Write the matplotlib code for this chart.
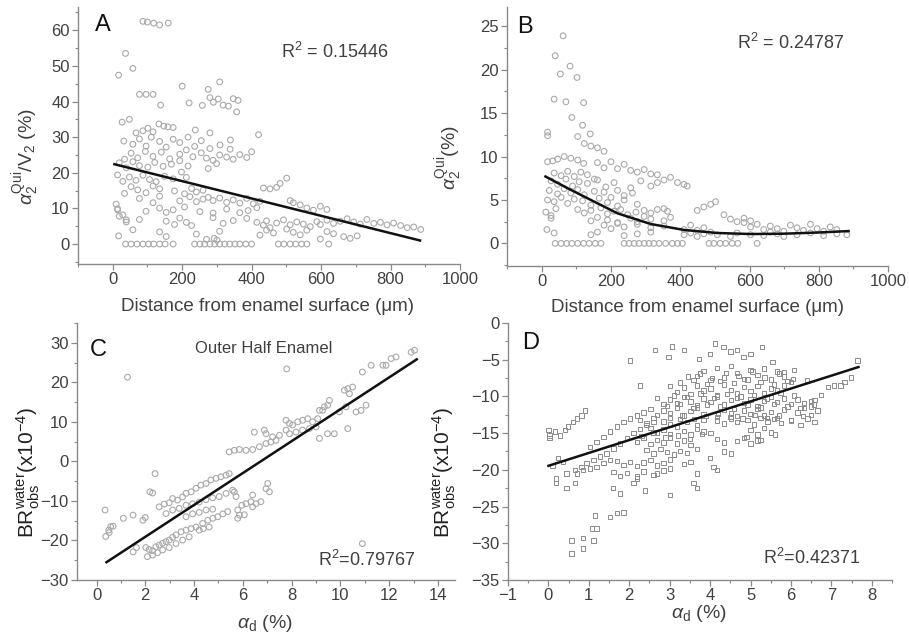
import matplotlib
matplotlib.use("Agg")
import matplotlib.pyplot as plt
from matplotlib.ticker import MultipleLocator
import numpy as np

plt.rcParams['font.family'] = ['Liberation Sans', 'DejaVu Sans']
plt.rcParams['mathtext.fontset'] = 'custom'
plt.rcParams['mathtext.rm'] = 'Liberation Sans'
plt.rcParams['mathtext.it'] = 'Liberation Sans:italic'

# ---------------- Panel A data ----------------
A_x = [87, 100, 118, 135, 160,
       37, 17, 58, 77, 96, 116, 138, 200, 308, 275, 220, 258,
       280, 290, 304, 318, 333, 347, 361, 357,
       27, 48, 32, 67, 87, 101, 116, 133, 147, 159, 174, 238, 280, 339, 420,
       58, 77, 96, 111, 135, 154, 174, 193, 217, 236, 255, 280, 309, 338,
       34, 53, 72, 94, 116, 140, 164, 193, 212, 231, 255, 270, 289, 308, 328, 347, 366, 386, 400,
       19, 39, 58, 77, 101, 121, 145, 169, 193, 217, 275, 299,
       14, 29, 48, 67, 87, 106, 125, 149, 174, 198, 212,
       34, 53, 72, 96, 116, 135, 178, 207, 227, 241, 260,
       10, 77, 116, 135, 193, 222, 241, 260, 275, 289, 308, 328, 347, 366, 386, 405, 424,
       434, 453, 472, 482, 501,
       14, 96, 135, 154, 174, 207, 251, 289, 328, 366, 390, 415, 511, 520, 540, 559, 578, 598, 617,
       19, 39, 77, 154, 178, 193, 212, 227, 289, 318, 347, 386, 415, 434, 443, 453, 472, 492, 511,
       530, 549, 569, 588, 598, 617, 636, 655, 675, 694, 713, 732, 752, 771, 790, 809, 829, 848, 867,
       17, 135, 154, 241, 308, 424, 443, 463, 501, 520, 540, 559, 598, 617, 636, 665, 684, 704, 887,
       37, 53, 70, 87, 103, 118, 135, 151, 174, 236, 251, 265, 280, 294, 308, 323, 337, 352, 366,
       383, 400, 477, 493, 511, 527, 544, 559, 622,
       270, 292, 300,
       14, 29, 39, 58]
A_y = [62.5, 62.3, 62, 61.5, 62,
       53.5, 47.4, 49.3, 42, 42, 42, 39, 44.3, 45.5, 43.4, 39.6, 38.9,
       41.1, 39.8, 40.7, 39, 38.7, 40.8, 40.3, 37.1,
       34.2, 35, 28.9, 31.2, 31.8, 32.5, 31.5, 33.7, 33.1, 32.9, 32.7, 32, 31.2, 29.2, 30.7,
       28, 29.5, 27.5, 30, 28.8, 27.2, 29.4, 28.5, 30, 27.4, 29, 26.8, 27.8, 26.6,
       23.8, 25.5, 24.2, 26, 24.6, 25.8, 23.9, 25.2, 26.4, 24.5, 25.6, 24.1, 23.5, 25, 24.4, 23.8, 25.1, 24.3, 25.9,
       22.8, 21.4, 23.1, 22, 21.6, 22.9, 21.8, 22.4, 23.4, 21.9, 21.2, 22.6,
       19.4, 17.6, 18.8, 17.9, 19.3, 18.1, 17.5, 19, 18.3, 20.2, 18.7,
       14.2, 16.1, 15.2, 14.4, 16.3, 15.5, 14.9, 14.1, 15.6, 14.6, 15.1,
       11.2, 12.8, 11.6, 13.4, 12.1, 13.3, 11.9, 12.6, 13.1, 12.2, 12.9, 11.7, 12.4, 11.5, 12.8, 11.3, 12,
       15.7, 15.5, 15.9, 17, 18.5,
       9.9, 9.2, 10.1, 8.9, 9.6, 10.4, 9.1, 8.7, 9.8, 8.8, 9.4, 10.2, 12.2, 11.6, 11, 10.1, 9.5, 10.6, 9.7,
       7.8, 6.2, 6.9, 6.4, 5.5, 7.3, 6.1, 5.2, 7.4, 5.8, 6.6, 7.2, 6.1, 5.3, 6.5, 4.6, 5.9, 6.8, 5.4,
       6.2, 5.6, 4.9, 6.3, 5.5, 6.7, 5.8, 6.4, 7.1, 6.2, 5.6, 6.9, 5.8, 6.1, 5.4, 5.9, 5.2, 4.6, 4.8,
       2.3, 3.4, 2.1, 2.8, 3.6, 2.5, 3.9, 3.1, 4.2, 3.3, 2.6, 3.9, 1.4, 3.5, 2.9, 2.1, 1.6, 2.3, 4.1,
       0, 0, 0, 0, 0, 0, 0, 0, 0, 0, 0, 0, 0, 0, 0, 0, 0, 0, 0,
       0, 0, 0, 0, 0, 0, 0, 0, 0,
       1.3, 1.6, 1.1,
       9.6, 8.2, 6.8, 4]
A_fit_x = [5, 885]
A_fit_y = [22.4, 1.0]

# ---------------- Panel B data ----------------
B_x = [62, 39, 54, 82, 102, 36, 70, 121, 87, 118, 140, 17, 17,
       104, 123, 142, 161, 180,
       17, 32, 46, 65, 84, 104, 121,
       161, 180, 200, 219, 238, 257, 276, 296, 315, 334, 353, 372, 392, 411, 420,
       36, 56, 75, 94, 113, 132, 152,
       27, 46, 70, 89, 108, 132, 161, 185, 209, 257, 286, 315, 334,
       22, 46, 65, 84, 104, 123, 152, 180, 200, 219, 238, 262,
       17, 36, 56, 75, 94, 118, 142, 166, 190, 219, 238, 276,
       449, 468, 488, 502,
       12, 27, 41, 104, 123, 142, 171, 190, 209, 228, 248, 272, 296, 315, 334, 353, 363,
       27, 142, 161, 190, 219, 257, 276, 296, 315, 353, 372, 526, 545, 564, 584, 603,
       15, 180, 200, 219, 238, 276, 315, 353, 411, 430, 449, 468, 584, 603, 622, 641, 660, 680,
       699, 718, 737, 756, 776, 795, 814, 833, 852,
       36, 142, 161, 238, 276, 315, 411, 430, 449, 468, 488, 507, 545, 564, 603, 641, 660, 680,
       699, 737, 776, 814, 852, 881,
       39, 56, 72, 87, 104, 121, 137, 155, 171, 238, 252, 267, 281, 296, 310, 324, 339, 358,
       377, 392, 406, 483, 497, 515, 531, 550, 566, 622]
B_y = [23.9, 21.6, 19.5, 20.4, 19.1, 16.6, 16.3, 16.2, 14.5, 13.6, 12.6, 12.8, 12.4,
       12.3, 11.5, 11.2, 11, 10.6,
       9.4, 9.5, 9.7, 10, 9.8, 9.6, 9.2,
       9.3, 8.7, 9.4, 8.6, 9.1, 8.4, 8.2, 8.5, 8.0, 7.9, 7.3, 7.6, 7.0, 6.8, 6.6,
       8.1, 7.8, 8.3, 7.7, 8.2, 7.9, 7.4,
       7.2, 6.8, 7.4, 6.6, 7.1, 6.9, 7.3, 6.5, 7.0, 6.4, 7.2, 6.6, 7.0,
       6.1, 5.7, 6.3, 5.8, 6.2, 5.6, 6.0, 5.9, 5.3, 6.1, 5.5, 5.8,
       5.0, 4.8, 5.3, 4.6, 5.1, 4.9, 4.4, 5.2, 4.7, 4.3, 5.0, 4.5,
       3.8, 4.2, 4.5, 4.8,
       3.6, 3.2, 4.0, 3.9, 3.5, 3.8, 4.1, 3.4, 3.7, 3.9, 3.3, 3.6, 3.8, 3.5, 3.9, 4.0, 3.7,
       2.9, 2.6, 3.0, 2.7, 2.4, 2.9, 2.5, 3.1, 2.8, 2.6, 3.0, 3.3, 2.8, 2.5, 2.9, 2.6,
       1.6, 2.1, 1.7, 2.3, 1.9, 2.2, 1.8, 2.0, 1.6, 2.1, 1.5, 1.8, 2.4, 1.9, 2.2, 1.6, 2.0, 1.7,
       1.4, 2.1, 1.8, 1.5, 2.2, 1.7, 1.4, 1.9, 1.6,
       1.2, 1.0, 1.3, 0.9, 1.1, 1.3, 1.0, 1.2, 0.8, 1.1, 1.3, 1.0, 0.8, 1.2, 1.0, 0.9, 1.3, 1.1,
       0.8, 1.0, 1.2, 0.9, 1.1, 1.0,
       0, 0, 0, 0, 0, 0, 0, 0, 0, 0, 0, 0, 0, 0, 0, 0, 0, 0,
       0, 0, 0, 0, 0, 0, 0, 0, 0, 0]
B_fit_x = [11, 75, 142, 219, 315, 411, 507, 603, 699, 795, 886]
B_fit_y = [7.7, 6.35, 5.0, 3.46, 2.23, 1.55, 1.2, 1.08, 1.12, 1.25, 1.42]

# ---------------- Panel C data ----------------
C_x = [1.27, 7.8, 10.9, 0.35, 0.5, 0.58, 0.68, 0.38, 0.52,
       1.1, 1.5, 1.9, 2.0, 1.5, 1.64, 2.19, 2.3, 2.4,
       2.02, 2.16, 2.3, 2.43, 2.57, 2.71, 2.85, 2.98, 3.12, 3.26, 3.47, 3.67, 3.88, 4.08, 4.35,
       4.56, 4.77, 4.97, 5.18, 5.38,
       2.09, 2.3, 2.5, 2.71, 2.98, 3.26, 3.53, 3.8, 4.21, 4.62,
       2.57, 2.78, 2.98, 3.12, 3.32, 3.53, 3.67, 3.88, 4.08, 4.28, 4.49, 4.69, 4.9, 5.1, 5.31, 5.44,
       2.85, 3.12, 3.39, 3.67, 3.94, 4.21, 4.49, 4.76, 5.03, 5.31, 5.58, 3.67, 3.94, 4.21, 4.49, 4.76,
       4.38,
       5.65, 5.72, 5.79, 5.86, 5.96, 6.13, 6.33, 6.54, 6.74, 6.95, 7.02, 7.09, 5.79, 6.06, 6.4, 6.4,
       5.44, 5.65, 5.86, 6.13, 6.4, 6.68, 6.95, 7.15, 7.36,
       6.47, 6.88, 6.95,
       7.22, 7.5, 7.77, 7.91, 8.04, 8.25, 8.45, 8.66, 8.86, 9.07, 7.91, 8.18, 8.45, 8.73, 9.0, 7.77,
       9.14, 9.47, 9.75,
       9.14, 9.34, 9.55, 9.48, 9.27,
       9.96, 10.23, 10.3,
       10.16, 10.3, 10.5, 10.37,
       10.64, 10.85, 11.05,
       10.9, 11.26,
       11.74, 11.87, 12.08, 12.28,
       12.9, 13.04]
C_y = [21.3, 23.4, -20.8, -12.3, -17.4, -16.5, -16.4, -19, -18,
       -14.4, -13.6, -14.9, -14.2, -22.9, -21.8, -7.7, -8, -3.1,
       -21.8, -22.3, -22.6, -21.6, -21.2, -20.7, -20.3, -19.9, -19.2, -18.6, -17.8, -17.4, -17,
       -16.6, -15.7, -14.9, -14.4, -14, -13.3, -12.7,
       -24.1, -23.7, -23.1, -22.4, -21.8, -20.8, -19.9, -19.1, -17.4, -16.6,
       -11.5, -10.8, -10.5, -9.4, -9.8, -9, -8.1, -7.7, -6.8, -6, -5.6, -4.7, -4.3, -3.9, -3.5, -3.1,
       -13.2, -12.3, -11.9, -11.1, -10.7, -10.3, -9.7, -9.2, -8.9, -8.1, -7.3, -14, -13.3, -12.9,
       -12.3, -12.1,
       -17,
       -7.7, -8.9, -12.3, -13.6, -11.1, -10.7, -10.2, -10.7, -10.2, -6.9, -5.6, -7.7, -14.4, -13.5,
       -11.5, -8.5,
       2.4, 2.8, 3, 2.8, 3, 3.7, 4.5, 4.9, 5.3,
       7.4, 7.9, 7,
       6.2, 6.6, 7.9, 9.6, 9.2, 10, 10.4, 10.8, 10, 10.8, 7, 7.4, 7.9, 8.3, 8.7, 10.4,
       5.8, 7, 7,
       12.9, 13.8, 15.4, 14.2, 12.9,
       12.5, 13.8, 8.3,
       18, 18.4, 18.8, 17.1,
       12.5, 12.9, 14.2,
       22.6, 24.3,
       24.3, 24.3, 26, 26.4,
       27.6, 28.1]
C_fit_x = [0.41, 13.13]
C_fit_y = [-25.5, 25.8]

# ---------------- Panel D data ----------------
D_x = [0, 0.03, 0.03, 0.16, 0.28, 0.41, 0.49, 0.61, 0.7, 0.82, 0.9,
       0.24, 0.36, 0.18, 0.18, 0.45, 0.65, 0.1,
       0.45, 0.65, 0.82, 0.94, 1.11, 1.28, 1.44, 1.61, 1.77, 1.94, 2.1, 2.27, 2.43, 2.6,
       0.7, 0.86, 1.03, 1.19, 1.36, 1.52,
       1.03, 1.19, 1.36, 1.52, 1.69, 1.86, 2.02, 2.19,
       0.57, 0.57, 0.86, 0.86, 1.11, 1.07, 1.19, 1.15, 1.52, 1.69, 1.86, 1.59, 1.77,
       2.1, 2.39, 2.19, 3.01, 3.59, 3.68, 3.68, 3.99, 4.08, 4.17,
       2.27, 2.02, 2.64, 2.97, 3.06, 3.35, 3.72, 3.99, 4.12, 4.33, 4.5, 4.67, 4.83, 5.0, 5.29,
       5.54, 5.83, 6.08,
       3.68, 3.84, 4.01, 4.17, 4.34, 4.51, 4.67, 4.84, 5.0, 5.17, 5.33, 5.5, 5.66, 5.83, 6.0,
       3.01, 3.18, 3.35, 3.51, 3.68, 3.84, 4.01, 4.17, 4.34, 4.51, 4.67, 4.84, 5.0, 5.17, 5.33,
       5.5, 5.66, 5.83,
       2.68, 2.85, 3.01, 3.18, 3.35, 3.51, 3.68, 3.84, 4.01, 4.17, 4.34, 4.51, 4.67, 4.84, 5.0,
       5.17, 5.33, 5.5, 5.66, 5.83, 6.0, 6.16, 6.33, 6.49,
       2.35, 2.52, 2.68, 2.85, 3.01, 3.18, 3.35, 3.51, 3.68, 3.84, 4.17, 4.34, 4.51, 4.67, 4.84,
       5.0, 5.17, 5.33, 5.5, 5.66, 5.83, 6.16, 6.33, 6.49, 6.66,
       2.27, 2.43, 2.6, 2.85, 3.01, 3.26, 3.43, 3.68, 3.84, 4.17, 4.34, 4.51, 4.67, 4.92, 5.08,
       5.25, 5.42, 5.58, 5.75, 6.0, 6.24, 6.41, 6.58,
       2.52, 2.68, 2.85, 3.01, 3.18, 3.35, 3.51, 3.68, 3.84, 4.01, 5.0, 5.17, 5.33, 5.5,
       2.19, 2.35, 2.52, 2.68, 2.85, 3.01, 3.18, 3.35, 3.51, 4.17, 4.34, 4.67, 4.84, 5.0, 5.17,
       2.43, 2.6, 2.77, 2.93, 3.1, 3.26, 3.43, 3.68, 4.34, 4.51,
       1.69, 1.86, 2.02, 2.19, 2.35, 2.52, 2.68, 2.85, 3.01, 3.35, 3.51,
       1.61, 1.77, 1.94, 2.19, 2.35, 2.6, 2.68, 2.85, 3.01,
       6.91, 7.07, 7.32, 7.49, 7.65, 7.23, 6.74, 6.58, 6.49,
       3.1, 3.43, 3.76, 4.09, 4.42, 4.75, 5.08, 5.41, 5.74, 6.07,
       2.93, 3.26, 3.59, 3.92, 4.25, 4.59, 4.92, 5.25, 5.58, 5.91, 6.24, 6.57,
       3.26, 3.59, 3.92, 4.25, 4.59, 4.92, 5.25, 5.58, 5.91,
       3.0, 3.3, 3.6, 3.9, 4.2, 4.5, 4.8, 5.1, 5.4, 5.7, 6.0, 6.3,
       3.45, 3.75, 4.05, 4.4, 4.7, 5.05, 5.35, 5.7, 6.05, 6.4,
       2.3, 2.6, 2.9, 3.2, 3.5, 3.8, 4.9, 5.25, 5.6]
D_y = [-14.6, -15.3, -15.7, -14.8, -15.3, -14.6, -14.1, -13.5, -13, -12.6, -11.9,
       -18.4, -18.9, -21.2, -21.8, -22.5, -21.8, -19.5,
       -20.5, -20, -19.6, -19.1, -18.7, -18.2, -17.8, -17.1, -16.4, -15.7, -15, -14.4, -13.9, -13.5,
       -20.5, -20, -19.8, -19.6, -19.1, -18.7,
       -16.9, -16.2, -15.5, -14.8, -14.1, -13.5, -13, -12.6,
       -29.6, -31.4, -30.7, -29.3, -29.6, -28, -28, -26.2, -26.4, -25.9, -25.8, -22.5, -23.2,
       -21.8, -22.8, -21.2, -23.4, -21.8, -22.5, -20.5, -18.4, -19.6, -20,
       -8.5, -5.1, -3.7, -4.6, -3.2, -3.7, -4.9, -4.2, -2.8, -3.3, -3.9, -3.7, -4.6, -4.2, -3.3,
       -5.3, -6.7, -6.4,
       -7.2, -6.5, -7.8, -6.1, -7.4, -5.9, -6.8, -7.6, -6.4, -7.1, -6.2, -7.7, -6.6, -7.3, -8.0,
       -8.6, -9.4, -8.8, -9.7, -8.5, -9.2, -8.9, -9.8, -8.4, -9.1, -9.6, -8.7, -9.3, -8.6, -9.5,
       -8.9, -9.2, -8.5,
       -10.2, -11, -10.4, -10.9, -10.1, -10.7, -11.2, -10.3, -10.8, -10.0, -11.1, -10.5, -10.2,
       -10.9, -10.4, -11.3, -10.6, -10.1, -10.8, -10.3, -11.0, -10.4, -10.9, -10.6,
       -12.2, -11.7, -12.5, -11.9, -12.3, -11.6, -12.6, -12.0, -11.5, -12.4, -12.8, -11.8, -12.3,
       -12.7, -11.9, -12.4, -11.7, -12.6, -12.1, -12.9, -11.8, -12.2, -11.6, -12.5, -11.9,
       -13.2, -13.6, -12.9, -13.4, -13.8, -13.1, -13.5, -13.9, -13.2, -13.3, -13.7, -13.0, -13.5,
       -13.2, -13.8, -12.9, -13.4, -13.1, -13.6, -13.3, -13.9, -13.0, -13.5,
       -14.3, -14.9, -14.5, -15.1, -14.2, -14.7, -15.2, -14.4, -14.8, -15.0, -14.6, -15.2, -14.3, -14.9,
       -16.2, -15.7, -16.5, -15.9, -16.3, -15.6, -16.4, -16.0, -16.6, -15.8, -16.3, -16.1, -15.7,
       -16.4, -16.0,
       -17.3, -17.8, -17.2, -17.6, -17.9, -17.4, -17.7, -17.2, -17.5, -17.8,
       -18.8, -19.3, -18.9, -19.5, -19.0, -18.7, -19.4, -19.1, -18.6, -19.2, -18.9,
       -20.3, -20.8, -20.4, -20.9, -20.2, -20.7, -20.5, -20.1, -19.8,
       -8.7, -8.5, -8, -7.4, -5.1, -8.5, -9.8, -10.5, -11.4,
       -9.9, -10.1, -9.6, -10.2, -9.7, -10.0, -9.8, -10.3, -9.5, -9.9,
       -11.3, -11.0, -11.6, -11.1, -11.4, -11.7, -11.2, -11.5, -11.0, -11.4, -11.6, -11.1,
       -8.1, -7.8, -8.3, -7.9, -8.2, -7.7, -8.0, -8.4, -7.9,
       -12.9, -12.6, -13.1, -12.7, -12.4, -12.8, -13.0, -12.5, -12.9, -12.6, -13.2, -12.7,
       -7.3, -6.9, -7.5, -6.8, -7.2, -6.6, -7.4, -6.9, -7.6, -7.8,
       -15.4, -14.9, -15.6, -15.3, -15.8, -15.1, -15.5, -15.9, -15.2]
D_fit_x = [0.0, 7.67]
D_fit_y = [-19.45, -6.0]

# ---------------- Figure ----------------
fig = plt.figure(figsize=(9.09, 6.43), dpi=100)
axA = fig.add_axes([0.0858, 0.5894, 0.4202, 0.3996])
axB = fig.add_axes([0.5578, 0.5863, 0.4192, 0.4027])
axC = fig.add_axes([0.0847, 0.0980, 0.4159, 0.3997])
axD = fig.add_axes([0.5589, 0.0980, 0.4224, 0.3997])

SPINE = '#8a8a8a'
TXT = '#404040'
PT = '#a9a9a9'


def style(ax):
    for s in ['top', 'right']:
        ax.spines[s].set_visible(False)
    for s in ['left', 'bottom']:
        ax.spines[s].set_color(SPINE)
        ax.spines[s].set_linewidth(1.0)
    ax.tick_params(which='major', direction='out', length=4, width=0.9, color=SPINE,
                   labelsize=12, labelcolor=TXT, pad=2)
    ax.tick_params(which='minor', direction='out', length=2.5, width=0.8, color=SPINE)


def circles(ax, x, y):
    ax.scatter(x, y, s=17, facecolors='none', edgecolors=PT, linewidths=0.8, zorder=2)


XL_DIST = 'Distance from enamel surface (\u03bcm)'
YL_BR = 'BR$_{\\mathrm{obs}}^{\\mathrm{water}}$(x10$^{\\mathrm{-4}}$)'
XL_AD = '$\\alpha_{\\mathrm{d}}$ (%)'

# Panel A
circles(axA, A_x, A_y)
axA.plot(A_fit_x, A_fit_y, color='#111111', lw=1.8, zorder=3)
axA.set_xlim(-100, 1000)
axA.set_ylim(-5.6, 66.5)
axA.set_xticks([0, 200, 400, 600, 800, 1000])
axA.xaxis.set_minor_locator(MultipleLocator(100))
axA.yaxis.set_major_locator(MultipleLocator(10))
axA.yaxis.set_minor_locator(MultipleLocator(5))
axA.set_xlabel(XL_DIST, fontsize=13.5, color=TXT)
axA.set_ylabel('$\\alpha_2^{\\mathrm{Qui}}$/V$_{\\mathrm{2}}$ (%)', fontsize=14, color=TXT)
axA.xaxis.set_label_coords(0.497, -0.132)
axA.yaxis.set_label_coords(-0.094, 0.42)
axA.text(0.065, 0.93, 'A', transform=axA.transAxes, fontsize=17, ha='center', va='center', color='#111')
axA.text(0.673, 0.825, 'R$^{\\mathrm{2}}$ = 0.15446', transform=axA.transAxes, fontsize=13, ha='center', va='center', color=TXT)
style(axA)

# Panel B
circles(axB, B_x, B_y)
axB.plot(B_fit_x, B_fit_y, color='#111111', lw=1.8, zorder=3)
axB.set_xlim(-100, 1000)
axB.set_ylim(-2.6, 27.2)
axB.set_xticks([0, 200, 400, 600, 800, 1000])
axB.xaxis.set_minor_locator(MultipleLocator(100))
axB.yaxis.set_major_locator(MultipleLocator(5))
axB.yaxis.set_minor_locator(MultipleLocator(2.5))
axB.set_xlabel(XL_DIST, fontsize=13.5, color=TXT)
axB.set_ylabel('$\\alpha_2^{\\mathrm{Qui}}$(%)', fontsize=14, color=TXT)
axB.xaxis.set_label_coords(0.499, -0.128)
axB.yaxis.set_label_coords(-0.11, 0.42)
axB.text(0.047, 0.923, 'B', transform=axB.transAxes, fontsize=17, ha='center', va='center', color='#111')
axB.text(0.743, 0.861, 'R$^{\\mathrm{2}}$ = 0.24787', transform=axB.transAxes, fontsize=13, ha='center', va='center', color=TXT)
style(axB)

# Panel C
circles(axC, C_x, C_y)
axC.plot(C_fit_x, C_fit_y, color='#111111', lw=1.8, zorder=3)
axC.set_xlim(-0.8, 14.7)
axC.set_ylim(-30, 35)
axC.set_xticks([0, 2, 4, 6, 8, 10, 12, 14])
axC.xaxis.set_minor_locator(MultipleLocator(1))
axC.set_yticks([-30, -20, -10, 0, 10, 20, 30])
axC.yaxis.set_minor_locator(MultipleLocator(5))
axC.set_xlabel(XL_AD, fontsize=14, color=TXT)
axC.set_ylabel(YL_BR, fontsize=15, color='#222')
axC.xaxis.set_label_coords(0.497, -0.128)
axC.yaxis.set_label_coords(-0.093, 0.42)
axC.text(0.056, 0.895, 'C', transform=axC.transAxes, fontsize=17, ha='center', va='center', color='#111')
axC.text(0.495, 0.90, 'Outer Half Enamel', transform=axC.transAxes, fontsize=12, ha='center', va='center', color=TXT)
axC.text(0.765, 0.078, 'R$^{\\mathrm{2}}$=0.79767', transform=axC.transAxes, fontsize=13, ha='center', va='center', color=TXT)
style(axC)

# Panel D
axD.scatter(D_x, D_y, s=10, marker='s', facecolors='none', edgecolors='#8c8c8c', linewidths=0.7, zorder=2)
axD.plot(D_fit_x, D_fit_y, color='#111111', lw=1.8, zorder=3)
axD.set_xlim(-1, 8.5)
axD.set_ylim(-35, 0)
axD.set_xticks(list(range(-1, 9)))
axD.xaxis.set_minor_locator(MultipleLocator(0.5))
axD.set_yticks([-35, -30, -25, -20, -15, -10, -5, 0])
axD.yaxis.set_minor_locator(MultipleLocator(2.5))
axD.set_xlabel(XL_AD, fontsize=14, color=TXT)
axD.set_ylabel(YL_BR, fontsize=15, color='#222')
axD.xaxis.set_label_coords(0.497, -0.09)
axD.yaxis.set_label_coords(-0.13, 0.42)
axD.text(0.06, 0.922, 'D', transform=axD.transAxes, fontsize=17, ha='center', va='center', color='#111')
axD.text(0.79, 0.086, 'R$^{\\mathrm{2}}$=0.42371', transform=axD.transAxes, fontsize=13, ha='center', va='center', color=TXT)
style(axD)

fig.savefig('out.png', dpi=100)
